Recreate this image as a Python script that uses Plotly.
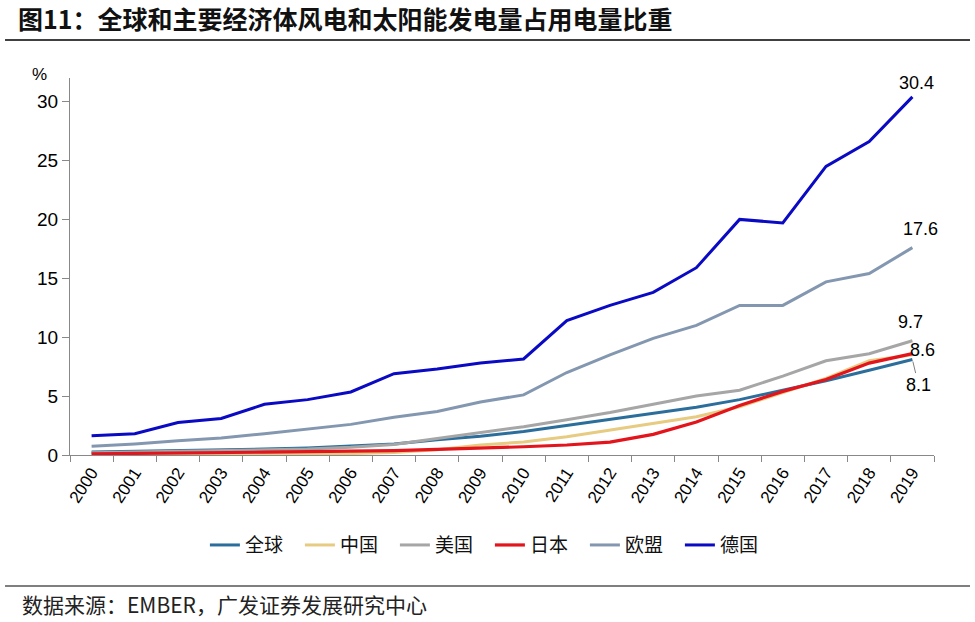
import plotly.graph_objects as go

years = [str(y) for y in range(2000, 2020)]
world   = [0.25, 0.3, 0.35, 0.4, 0.5, 0.6, 0.75, 0.93, 1.3, 1.6, 2.0, 2.5, 3.0, 3.5, 4.05, 4.7, 5.5, 6.3, 7.2, 8.1]
china   = [0.02, 0.03, 0.04, 0.05, 0.06, 0.08, 0.12, 0.22, 0.45, 0.85, 1.1, 1.55, 2.1, 2.7, 3.25, 4.1, 5.3, 6.5, 8.0, 8.5]
usa     = [0.2, 0.25, 0.3, 0.35, 0.42, 0.5, 0.65, 0.9, 1.4, 1.9, 2.4, 3.0, 3.6, 4.3, 5.0, 5.5, 6.7, 8.0, 8.6, 9.7]
japan   = [0.1, 0.12, 0.15, 0.2, 0.24, 0.28, 0.32, 0.37, 0.47, 0.57, 0.7, 0.85, 1.1, 1.75, 2.8, 4.2, 5.4, 6.4, 7.8, 8.6]
eu      = [0.74, 0.93, 1.2, 1.45, 1.8, 2.2, 2.6, 3.2, 3.7, 4.5, 5.1, 7.0, 8.5, 9.9, 11.0, 12.7, 12.7, 14.7, 15.4, 17.6]
germany = [1.64, 1.8, 2.75, 3.1, 4.3, 4.7, 5.35, 6.9, 7.3, 7.8, 8.15, 11.4, 12.7, 13.8, 15.9, 20.0, 19.7, 24.5, 26.6, 30.4]

names  = ["全球", "中国", "美国", "日本", "欧盟", "德国"]
series = [world, china, usa, japan, eu, germany]
colors = ["#2C6E9B", "#E6CB80", "#A6A6A6", "#E3141B", "#8497B0", "#0A0AC4"]
widths = [3, 3, 3, 3.2, 3, 3]

NUM = "Liberation Sans, Arial, Noto Sans CJK SC"
CJK = "Noto Sans CJK SC, Liberation Sans"

fig = go.Figure()
for n, s, c, w in zip(names, series, colors, widths):
    fig.add_trace(go.Scatter(x=years, y=s, name=n, mode="lines",
                             line=dict(color=c, width=w)))

last = len(years) - 1  # category index of the final year

# end-value labels
labels = [
    (germany, "30.4", 4, 14),
    (eu, "17.6", 8, 19),
    (usa, "9.7", -2, 19),
    (japan, "8.6", 10, 4),
]
for s, t, xs, ys in labels:
    fig.add_annotation(x=last, y=s[-1], text=t, showarrow=False,
                       xshift=xs, yshift=ys, font=dict(family=NUM, size=18, color="#000"))
fig.add_annotation(x=last, y=world[-1], text="8.1", showarrow=True,
                   ax=6, ay=25, arrowhead=0, arrowwidth=1, arrowcolor="#808080",
                   standoff=2, font=dict(family=NUM, size=18, color="#000"))

# % label
fig.add_annotation(xref="paper", yref="paper", x=-0.035, y=1.008, text="%",
                   xanchor="center", yanchor="middle",
                   showarrow=False, font=dict(family=NUM, size=17, color="#000"))

# source
fig.add_annotation(xref="paper", yref="paper", x=-0.0579, y=-0.395, xanchor="left",
                   yanchor="middle", showarrow=False,
                   text="数据来源：EMBER，广发证券发展研究中心",
                   font=dict(family=CJK, size=21, color="#222"))

# horizontal rules
fig.add_shape(type="line", xref="paper", yref="paper", x0=-0.0752, x1=1.0417,
              y0=1.1008, y1=1.1008, line=dict(color="#000", width=1.5))
fig.add_shape(type="line", xref="paper", yref="paper", x0=-0.0752, x1=1.0417,
              y0=-0.3475, y1=-0.3475, line=dict(color="#000", width=1.2))

fig.update_layout(
    width=975, height=622,
    margin=dict(l=70, r=41, t=78, b=167),
    paper_bgcolor="white", plot_bgcolor="white",
    title=dict(text="<b>图11：全球和主要经济体风电和太阳能发电量占用电量比重</b>",
               xref="container", yref="container", x=18/975, y=1-20/622,
               xanchor="left", yanchor="middle",
               font=dict(family=CJK, size=25, color="#111")),
    showlegend=True,
    legend=dict(orientation="h", xref="paper", yref="paper", x=0.486, y=-0.239,
                xanchor="center", yanchor="middle", entrywidth=50, entrywidthmode="pixels",
                font=dict(family=CJK, size=19, color="#111"), itemwidth=30,
                bgcolor="rgba(0,0,0,0)"),
    xaxis=dict(type="category", showgrid=False, showline=True, linecolor="#888",
               linewidth=1.2, ticks="outside", ticklen=6, tickcolor="#888",
               tickson="boundaries", tickangle=-57, automargin=False,
               tickfont=dict(family=NUM, size=17, color="#000"),
               range=[-0.5, 19.5]),
    yaxis=dict(range=[0, 32], tickvals=[0, 5, 10, 15, 20, 25, 30], showgrid=False,
               zeroline=False, showline=True, linecolor="#888", linewidth=1.2,
               ticks="outside", ticklen=7, tickcolor="#888", automargin=False,
               tickfont=dict(family=NUM, size=19, color="#000")),
)

fig.write_html("out.html", config={"displayModeBar": False},
               post_script="document.body.style.margin='0';document.body.style.padding='0';")
